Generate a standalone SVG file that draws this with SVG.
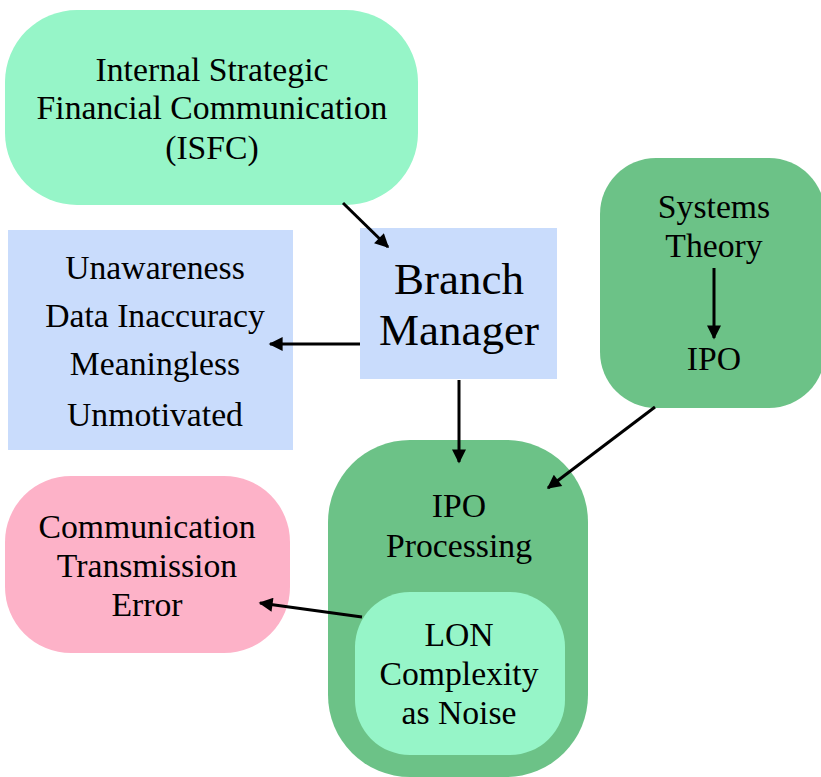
<svg xmlns="http://www.w3.org/2000/svg" width="821" height="777" viewBox="0 0 821 777">
<style>
text{font-family:'Liberation Serif',Tinos,'Times New Roman',Times,serif;fill:#000;text-anchor:middle}
.t{font-size:33.7px}
.b{font-size:45px}
.c{stroke:#000;stroke-width:3;fill:none;marker-end:url(#ah)}
</style>
<defs>
<marker id="ah" viewBox="0 0 10 10" refX="9" refY="5" markerWidth="16" markerHeight="14" markerUnits="userSpaceOnUse" orient="auto">
<path d="M0,0 L10,5 L0,10 z" fill="#000"/>
</marker>
</defs>
<rect width="821" height="777" fill="#fff"/>
<g id="isfc">
<rect x="5" y="10" width="413" height="195" rx="72" fill="#96f5c8"/>
<text class="t" x="212" y="81">Internal Strategic</text>
<text class="t" x="212" y="119">Financial Communication</text>
<text class="t" x="212" y="159">(ISFC)</text>
</g>
<g id="branch">
<rect x="360" y="228" width="197" height="151" fill="#c9dcfc"/>
<text class="b" x="459" y="294">Branch</text>
<text class="b" x="459" y="345">Manager</text>
</g>
<g id="issues">
<rect x="8" y="230" width="285" height="220" fill="#c9dcfc"/>
<text class="t" x="155" y="279">Unawareness</text>
<text class="t" x="155" y="327">Data Inaccuracy</text>
<text class="t" x="155" y="375">Meaningless</text>
<text class="t" x="155" y="426">Unmotivated</text>
</g>
<g id="systems">
<rect x="600" y="158" width="225" height="250" rx="56" fill="#6cc287"/>
<text class="t" x="714" y="218">Systems</text>
<text class="t" x="714" y="257">Theory</text>
<text class="t" x="714" y="370">IPO</text>
</g>
<g id="ipo">
<rect x="328" y="440" width="260" height="337" rx="82" fill="#6cc287"/>
<text class="t" x="459" y="517">IPO</text>
<text class="t" x="459" y="557">Processing</text>
</g>
<g id="lon">
<rect x="355" y="592" width="210" height="163" rx="55" fill="#96f5c8"/>
<text class="t" x="459" y="646">LON</text>
<text class="t" x="459" y="685">Complexity</text>
<text class="t" x="459" y="724">as Noise</text>
</g>
<g id="cte">
<rect x="5" y="476" width="285" height="177" rx="66" fill="#fdb2c8"/>
<text class="t" x="147" y="538">Communication</text>
<text class="t" x="147" y="577">Transmission</text>
<text class="t" x="147" y="616">Error</text>
</g>
<g id="connectors">
<line class="c" x1="343" y1="203" x2="388" y2="247"/>
<line class="c" x1="360" y1="344" x2="270" y2="344"/>
<line class="c" x1="459" y1="380" x2="459" y2="462"/>
<line class="c" x1="655" y1="407" x2="548" y2="488"/>
<line class="c" x1="362" y1="617" x2="260" y2="603"/>
<line class="c" x1="714" y1="268" x2="714" y2="338"/>
</g>
</svg>
